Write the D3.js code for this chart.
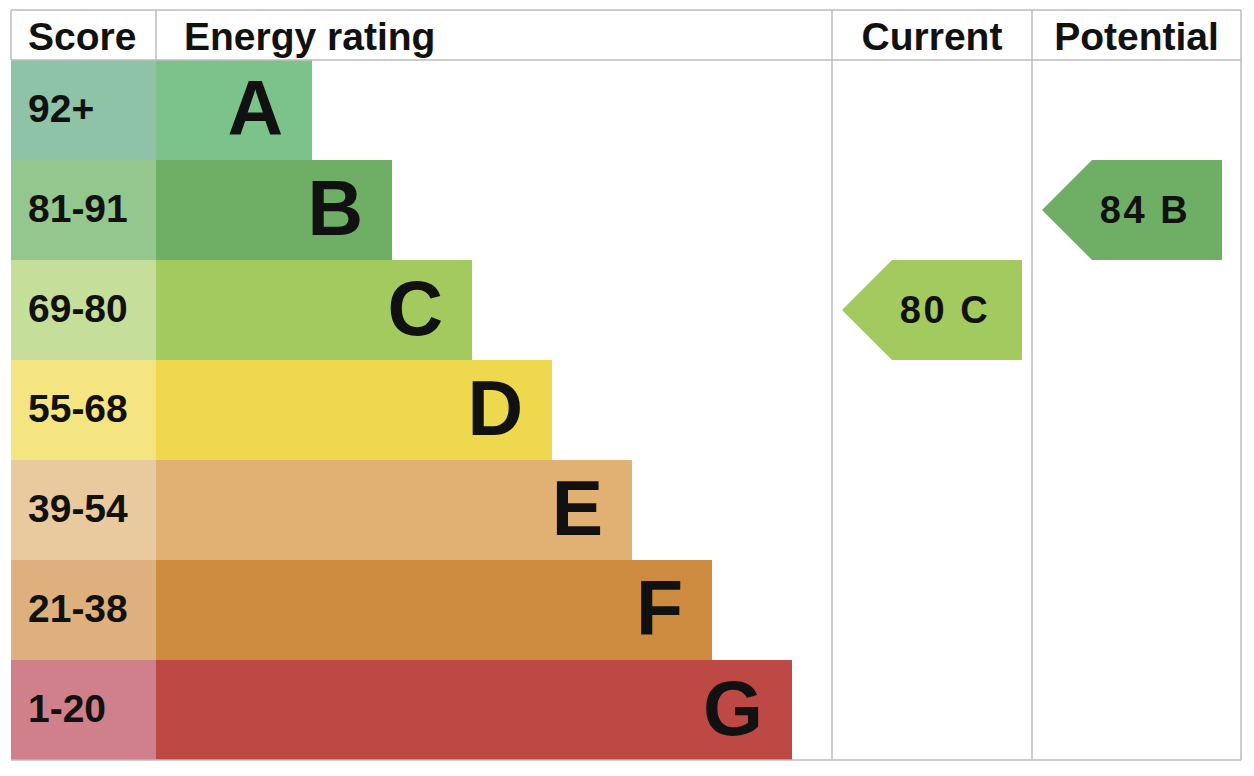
<!DOCTYPE html>
<html>
<head>
  <title>Energy rating</title>
  <script src="https://d3js.org/d3.v7.min.js"></script>
  <style>
    body { margin: 0; background: #fff; }
    text { font-family: "Liberation Sans", Arial, Helvetica, sans-serif; font-weight: bold; fill: #111; }
  </style>
</head>
<body>
  <svg id="epc" width="1254" height="776"></svg>

  <script>
    // Data
    var bands = ["A", "B", "C", "D", "E", "F", "G"];
    var scoreRanges = ["92+", "81-91", "69-80", "55-68", "39-54", "21-38", "1-20"];
    var bandRank = [1, 2, 3, 4, 5, 6, 7];
    var scoreColors = ["#8fc3a7", "#93c78e", "#c5df9a", "#f4e580", "#e9ca9f", "#ddb07e", "#d0808a"];
    var barColors = ["#7bc38b", "#6fae65", "#a3ca5f", "#edd84e", "#e1b173", "#cc8b3e", "#be4944"];
    var headers = ["Score", "Energy rating", "Current", "Potential"];
    var current = { score: 80, band: "C" };
    var potential = { score: 84, band: "B" };

    // Layout
    var boxLeft = 11, boxTop = 10, boxRight = 1241, boxBottom = 760, headerH = 50;
    var scoreCol = 156, currentCol = 832, potentialCol = 1032;
    var gridColor = "#bdbdbd";

    var svg = d3.select("#epc");

    var y = d3.scaleBand()
      .domain(bands)
      .range([boxTop + headerH, boxBottom]);

    var barEnd = d3.scaleLinear()
      .domain([1, 7])
      .range([312, 792]);

    var rows = bands.map(function(b, i) {
      return { band: b, range: scoreRanges[i], rank: bandRank[i], scoreColor: scoreColors[i], barColor: barColors[i] };
    });

    // Score cells
    svg.selectAll("rect.score")
      .data(rows)
      .enter()
      .append("rect")
      .attr("class", "score")
      .attr("x", boxLeft)
      .attr("y", function(d) { return y(d.band); })
      .attr("width", scoreCol - boxLeft)
      .attr("height", y.bandwidth())
      .attr("fill", function(d) { return d.scoreColor; });

    // Rating bars
    svg.selectAll("rect.bar")
      .data(rows)
      .enter()
      .append("rect")
      .attr("class", "bar")
      .attr("x", scoreCol)
      .attr("y", function(d) { return y(d.band); })
      .attr("width", function(d) { return barEnd(d.rank) - scoreCol; })
      .attr("height", y.bandwidth())
      .attr("fill", function(d) { return d.barColor; });

    // Score labels
    svg.selectAll("text.range")
      .data(rows)
      .enter()
      .append("text")
      .attr("class", "range")
      .attr("x", 28)
      .attr("y", function(d) { return y(d.band) + y.bandwidth() / 2; })
      .attr("dy", "0.3em")
      .attr("font-size", 39)
      .text(function(d) { return d.range; });

    // Band letters
    svg.selectAll("text.letter")
      .data(rows)
      .enter()
      .append("text")
      .attr("class", "letter")
      .attr("x", function(d) { return barEnd(d.rank) - 29; })
      .attr("y", function(d) { return y(d.band) + y.bandwidth() / 2; })
      .attr("dy", "0.33em")
      .attr("text-anchor", "end")
      .attr("font-size", 77)
      .text(function(d) { return d.band; });

    // Grid
    var grid = svg.append("g")
      .attr("stroke", gridColor)
      .attr("stroke-width", 1.5)
      .attr("fill", "none");
    grid.append("line").attr("x1", boxLeft).attr("x2", boxRight).attr("y1", boxTop).attr("y2", boxTop);
    grid.append("line").attr("x1", boxLeft).attr("x2", boxRight).attr("y1", boxTop + headerH).attr("y2", boxTop + headerH);
    grid.append("line").attr("x1", boxLeft).attr("x2", boxRight).attr("y1", boxBottom).attr("y2", boxBottom);
    [boxLeft, scoreCol].forEach(function(x) {
      grid.append("line").attr("x1", x).attr("x2", x).attr("y1", boxTop).attr("y2", boxTop + headerH);
    });
    [currentCol, potentialCol, boxRight].forEach(function(x) {
      grid.append("line").attr("x1", x).attr("x2", x).attr("y1", boxTop).attr("y2", boxBottom);
    });

    // Headers
    var headerPos = [
      { x: 28, anchor: "start" },
      { x: 184, anchor: "start" },
      { x: (currentCol + potentialCol) / 2, anchor: "middle" },
      { x: (potentialCol + boxRight) / 2, anchor: "middle" }
    ];
    svg.selectAll("text.header")
      .data(headers)
      .enter()
      .append("text")
      .attr("class", "header")
      .attr("x", function(d, i) { return headerPos[i].x; })
      .attr("y", boxTop + headerH / 2)
      .attr("dy", "0.38em")
      .attr("text-anchor", function(d, i) { return headerPos[i].anchor; })
      .attr("font-size", 39)
      .text(function(d) { return d; });

    // Rating arrows
    function arrow(rating, colLeft) {
      var x0 = colLeft + 10, x1 = colLeft + 190;
      var y0 = y(rating.band), h = y.bandwidth();
      var color = barColors[bands.indexOf(rating.band)];
      var pts = [[x0, y0 + h / 2], [x0 + h / 2, y0], [x1, y0], [x1, y0 + h], [x0 + h / 2, y0 + h]];
      svg.append("path")
        .attr("d", d3.line()(pts) + "Z")
        .attr("fill", color);
      svg.append("text")
        .attr("x", x0 + 103)
        .attr("y", y0 + h / 2)
        .attr("dy", "0.34em")
        .attr("text-anchor", "middle")
        .attr("font-size", 38)
        .attr("letter-spacing", 2.5)
        .style("white-space", "pre")
        .text(rating.score + " " + rating.band);
    }
    arrow(current, currentCol);
    arrow(potential, potentialCol);
  </script>
</body>
</html>
